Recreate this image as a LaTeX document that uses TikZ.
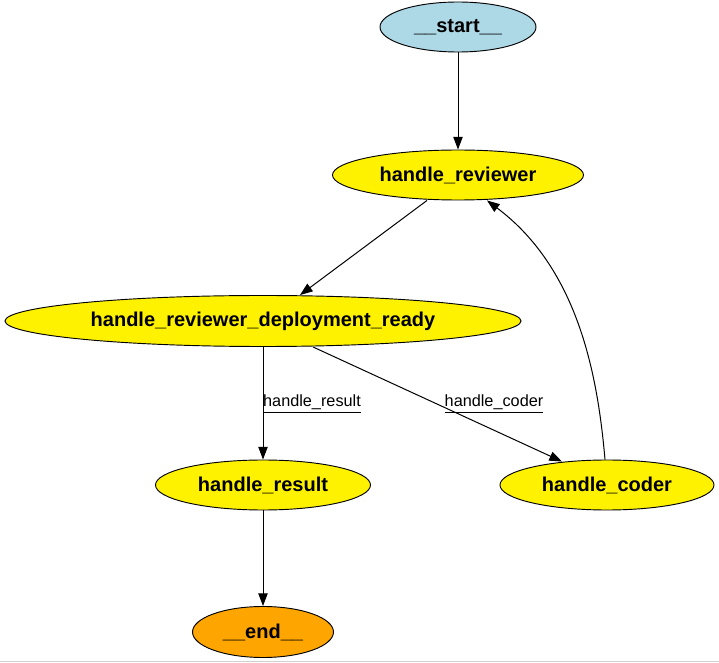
\documentclass[tikz,border=0pt]{standalone}
\usepackage{fontspec}
\setmainfont{Liberation Sans}
\usetikzlibrary{shapes.geometric}
\usetikzlibrary{arrows.meta}
\definecolor{startblue}{RGB}{173,216,230}
\definecolor{endorange}{RGB}{255,165,0}
\tikzset{
  state/.style={ellipse, draw=black, line width=0.7pt, fill=yellow, inner sep=0pt, font=\fontsize{15}{17}\selectfont\bfseries},
  edge/.style={-{Triangle[length=9.5pt,width=7pt]}, line width=0.75pt},
  elabel/.style={font=\fontsize{12.2}{14}\selectfont}
}
\begin{document}
\begin{tikzpicture}[x=0.75pt,y=-0.75pt]
\useasboundingbox (0,0) rectangle (719,663);
\draw[black!18, line width=1pt] (0,661.5) -- (719,661.5);

\node[state, fill=startblue, minimum width=156*0.75pt, minimum height=50*0.75pt] (start) at (458,27) {\_\_start\_\_};
\node[state, minimum width=251*0.75pt, minimum height=50*0.75pt] (reviewer) at (458,175) {handle\_reviewer};
\node[state, minimum width=516*0.75pt, minimum height=51*0.75pt] (deploy) at (263,321) {handle\_reviewer\_deployment\_ready};
\node[state, minimum width=215*0.75pt, minimum height=50*0.75pt] (result) at (263,485) {handle\_result};
\node[state, minimum width=214*0.75pt, minimum height=50*0.75pt] (coder) at (607,485) {handle\_coder};
\node[state, fill=endorange, minimum width=141*0.75pt, minimum height=51*0.75pt] (end) at (263,632) {\_\_end\_\_};

% end points of the edges on the ellipses
\coordinate (rv) at ([shift={(-31,0)}]reviewer.south);
\coordinate (ru) at ([shift={(29,0)}]reviewer.south);
\coordinate (dp) at ([shift={(37,0)}]deploy.north);
\coordinate (ds) at ([shift={(50,0)}]deploy.south);
\coordinate (cn) at ([shift={(-45,2)}]coder.north);
\coordinate (cu) at ([shift={(-2,0)}]coder.north);

\draw[edge] (start) -- (reviewer);
\draw[edge] (rv) -- (dp);
\draw[edge] (deploy) -- (result);
\draw[edge] (ds) -- (cn);
\draw[edge] (cu) .. controls (598,380) and (580,270) .. (ru);
\draw[edge] (result) -- (end);

\node[elabel] (lresult) at (312,404) {\underline{handle\_result}};
\node[elabel] (lcoder) at (494,404) {\underline{handle\_coder}};
\end{tikzpicture}
\end{document}
